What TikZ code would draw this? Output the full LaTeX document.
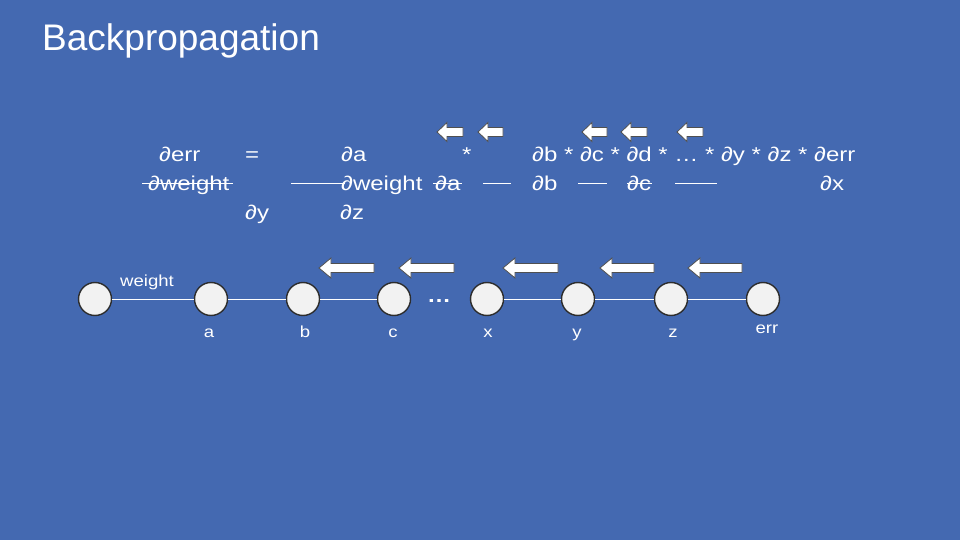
\documentclass[tikz,border=0pt]{standalone}
\usepackage{fontspec}
\setmainfont{Liberation Sans}
\newfontfamily\widefont{Liberation Sans}[FakeStretch=1.2]
\newfontfamily\lblfont{Liberation Sans}[FakeStretch=1.16]
\definecolor{slideblue}{RGB}{68,105,177}
\definecolor{nodegray}{RGB}{242,242,242}
\definecolor{rimgray}{RGB}{45,45,45}
\definecolor{arrowrim}{RGB}{80,80,80}
\tikzset{
	unit/.style={circle,draw=rimgray,line width=1.4pt,fill=nodegray,minimum size=33pt,inner sep=0pt},
	link/.style={white,line width=0.8pt},
	rule/.style={white,line width=0.9pt},
	txt/.style={white,inner sep=0pt,anchor=base west,font=\widefont\fontsize{20}{24}\selectfont},
	lbl/.style={white,inner sep=0pt,anchor=base,font=\lblfont\fontsize{16}{19}\selectfont},
	arrowbox/.style={draw=arrowrim,fill=white,line width=0.8pt,line join=miter}
}
% left pointing block arrow: left x, right x, middle y, head length, half height
\newcommand{\backblock}[5]{%
	\draw[arrowbox] (#1,#3) -- (#1+#4,#3-#5) -- (#1+#4,#3-4.5) -- (#2,#3-4.5)
		-- (#2,#3+4.5) -- (#1+#4,#3+4.5) -- (#1+#4,#3+#5) -- cycle;}
\begin{document}
\begin{tikzpicture}[x=1pt,y=-1pt]
	\fill[slideblue] (0,0) rectangle (960,540);
	\useasboundingbox (0,0) rectangle (960,540);
	
	\node[white,inner sep=0pt,anchor=base west,font=\fontsize{37}{42}\selectfont] (title) at (42,51) {Backpropagation};
	
	% the chain rule
	\node[txt] (derr) at (159,161) {∂err};
	\node[txt] (eq) at (245,161) {=};
	\node[txt] (da) at (341,161) {∂a};
	\node[txt] (star) at (462,161) {*};
	\node[txt] (chain) at (532,161) {∂b * ∂c * ∂d * … * ∂y * ∂z * ∂err};
	
	\node[txt] (dw1) at (148,190) {∂weight};
	\node[txt] (dw2) at (341,190) {∂weight};
	\node[txt] (da2) at (435,190) {∂a};
	\node[txt] (db2) at (532,190) {∂b};
	\node[txt] (dc2) at (627,190) {∂c};
	\node[txt] (dx2) at (820,190) {∂x};
	
	\node[txt] (dy3) at (245,219) {∂y};
	\node[txt] (dz3) at (340,219) {∂z};
	
	\draw[rule] ([xshift=-6pt,yshift=7pt]dw1.base west) -- ([xshift=3pt,yshift=7pt]dw1.base east);
	\draw[rule] ([xshift=-2pt,yshift=7pt]da2.base west) -- ([xshift=1pt,yshift=7pt]da2.base east);
	\draw[rule] ([yshift=7pt]dc2.base west) -- ([xshift=1pt,yshift=7pt]dc2.base east);
	\draw[rule] (291,183) -- (345,183);
	\draw[rule] (483,183) -- (511,183);
	\draw[rule] (578,183) -- (607,183);
	\draw[rule] (675,183) -- (717,183);
	
	\backblock{437}{463}{132}{10}{9.5}
	\backblock{478}{503}{132}{10}{9.5}
	\backblock{582}{607}{132}{10}{9.5}
	\backblock{621}{647}{132}{10}{9.5}
	\backblock{677}{703}{132}{10}{9.5}
	
	% the chain of units
	\node[unit] (in) at (95,299) {};
	\node[unit] (a) at (211,299) {};
	\node[unit] (b) at (303,299) {};
	\node[unit] (c) at (394,299) {};
	\node[unit] (x) at (487,299) {};
	\node[unit] (y) at (578,299) {};
	\node[unit] (z) at (671,299) {};
	\node[unit] (err) at (763,299) {};
	
	\draw[link] (in) -- (a);
	\draw[link] (a) -- (b);
	\draw[link] (b) -- (c);
	\draw[link] (x) -- (y);
	\draw[link] (y) -- (z);
	\draw[link] (z) -- (err);
	
	\node[white,inner sep=0pt,anchor=base,font=\widefont\fontsize{20}{24}\selectfont\bfseries] (dots) at (439,302) {…};
	
	\node[lbl] (lw) at (147,286) {weight};
	\node[lbl] (la) at (209,337) {a};
	\node[lbl] (lb) at (305,337) {b};
	\node[lbl] (lc) at (393,337) {c};
	\node[lbl] (lx) at (488,337) {x};
	\node[lbl] (ly) at (577,337) {y};
	\node[lbl] (lz) at (673,337) {z};
	\node[lbl] (lerr) at (767,333) {err};
	
	\backblock{319}{374}{268}{12}{10}
	\backblock{399}{454}{268}{12}{10}
	\backblock{503}{558}{268}{12}{10}
	\backblock{600}{654}{268}{12}{10}
	\backblock{688}{742}{268}{12}{10}
\end{tikzpicture}
\end{document}
